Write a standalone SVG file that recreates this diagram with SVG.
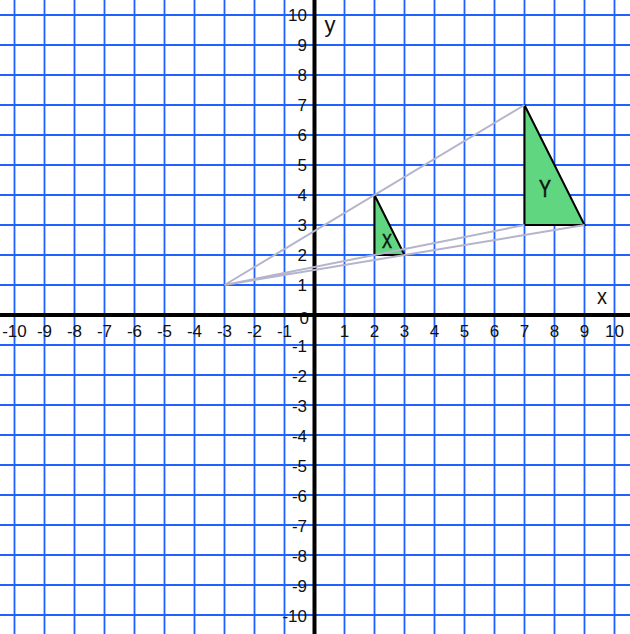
<svg xmlns="http://www.w3.org/2000/svg" width="630" height="634" viewBox="0 0 630 634">
<style>
.grid{stroke:#1f62ff;stroke-width:1.8;fill:none}
.axis{stroke:#000;stroke-width:4;fill:none}
.num{font-family:"Liberation Sans",Arial,sans-serif;font-size:17px;fill:#111}
.xn{text-anchor:middle}
.yn{text-anchor:end}
.tri{fill:#60d680;stroke:#000;stroke-width:2;stroke-linejoin:miter}
.proj{stroke:#b4b4cc;stroke-width:2;fill:none}
.lbl{font-family:"Liberation Sans",Arial,sans-serif;fill:#111}
.tl{stroke:#111;stroke-width:0.6}
</style>
<rect width="630" height="634" fill="#fff"/>
<g id="grid">
<path class="grid" d="M14.5 0V634M44.5 0V634M74.5 0V634M104.5 0V634M134.5 0V634M164.5 0V634M194.5 0V634M224.5 0V634M254.5 0V634M284.5 0V634M344.5 0V634M374.5 0V634M404.5 0V634M434.5 0V634M464.5 0V634M494.5 0V634M524.5 0V634M554.5 0V634M584.5 0V634M614.5 0V634
M0 15H630M0 45H630M0 75H630M0 105H630M0 135H630M0 165H630M0 195H630M0 225H630M0 255H630M0 285H630M0 345H630M0 375H630M0 405H630M0 435H630M0 465H630M0 495H630M0 525H630M0 555H630M0 585H630M0 615H630"/>
</g>
<g id="axis-labels">
<text class="num yn" x="309" y="323.5">0</text>
<g class="num xn">
<text x="14.5" y="337">-10</text><text x="44.5" y="337">-9</text><text x="74.5" y="337">-8</text><text x="104.5" y="337">-7</text><text x="134.5" y="337">-6</text><text x="164.5" y="337">-5</text><text x="194.5" y="337">-4</text><text x="224.5" y="337">-3</text><text x="254.5" y="337">-2</text><text x="284.5" y="337">-1</text>
<text x="344.5" y="337">1</text><text x="374.5" y="337">2</text><text x="404.5" y="337">3</text><text x="434.5" y="337">4</text><text x="464.5" y="337">5</text><text x="494.5" y="337">6</text><text x="524.5" y="337">7</text><text x="554.5" y="337">8</text><text x="584.5" y="337">9</text><text x="614.5" y="337">10</text>
</g>
<g class="num yn">
<text x="307" y="21">10</text><text x="307" y="51">9</text><text x="307" y="81">8</text><text x="307" y="111">7</text><text x="307" y="141">6</text><text x="307" y="171">5</text><text x="307" y="201">4</text><text x="307" y="231">3</text><text x="307" y="261">2</text><text x="307" y="291">1</text>
<text x="307" y="352">-1</text><text x="307" y="382">-2</text><text x="307" y="412">-3</text><text x="307" y="442">-4</text><text x="307" y="472">-5</text><text x="307" y="502">-6</text><text x="307" y="532">-7</text><text x="307" y="562">-8</text><text x="307" y="592">-9</text><text x="307" y="622">-10</text>
</g>
</g>
<g id="axes">
<path class="axis" d="M0 315H630M314.5 0V634"/>
<text class="lbl" x="597" y="304" font-size="22" textLength="10" lengthAdjust="spacingAndGlyphs">x</text>
<text class="lbl" x="324.5" y="32" font-size="22">y</text>
</g>
<g id="triangle-Y">
<polygon class="tri" points="524.5,105 524.5,225 584.5,225"/>
<text class="lbl tl" x="539" y="196.5" font-size="24" textLength="12" lengthAdjust="spacingAndGlyphs">Y</text>
</g>
<g id="triangle-X">
<polygon class="tri" points="374.5,195 374.5,255 404.5,255"/>
<text class="lbl tl" x="382" y="247.5" font-size="20" textLength="10" lengthAdjust="spacingAndGlyphs">X</text>
</g>
<g id="connectors">
<path class="proj" d="M224.5 285L524.5 105M224.5 285L524.5 225M224.5 285L584.5 225"/>
</g>
</svg>
